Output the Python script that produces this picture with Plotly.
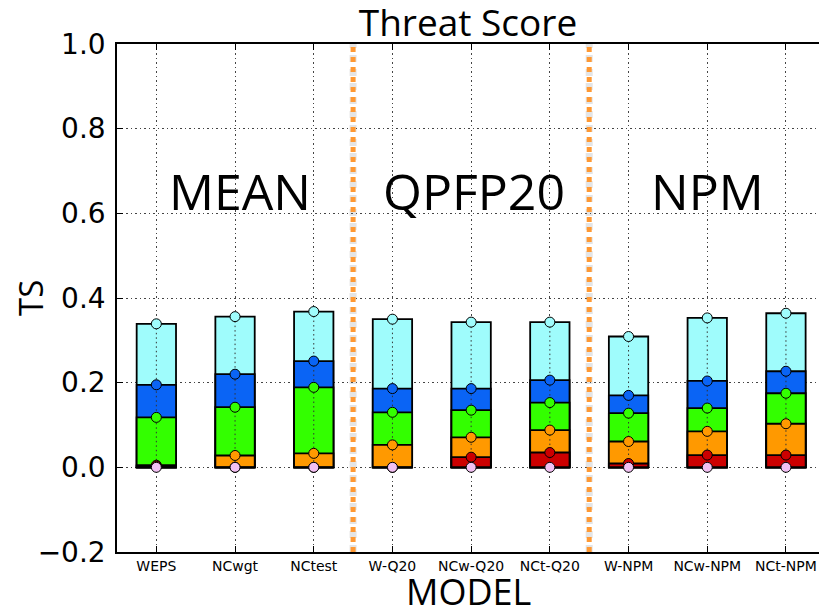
import plotly.graph_objects as go

models = ["WEPS", "NCwgt", "NCtest", "W-Q20", "NCw-Q20", "NCt-Q20", "W-NPM", "NCw-NPM", "NCt-NPM"]
groups = ["MEAN", "QPFP20", "NPM"]
group_centers = [1.06, 4.03, 7.0]
separators = [2.5, 5.5]

# TS for each rain threshold (lowest threshold -> highest TS)
ts_cyan   = [0.339, 0.356, 0.368, 0.350, 0.343, 0.343, 0.309, 0.353, 0.364]
ts_blue   = [0.195, 0.220, 0.251, 0.186, 0.186, 0.206, 0.170, 0.204, 0.227]
ts_green  = [0.118, 0.142, 0.189, 0.130, 0.135, 0.153, 0.128, 0.140, 0.175]
ts_orange = [0.005, 0.028, 0.033, 0.053, 0.071, 0.088, 0.061, 0.085, 0.103]
ts_red    = [0.003, 0.000, 0.000, 0.000, 0.024, 0.035, 0.009, 0.029, 0.029]
ts_pink   = [0.000, 0.000, 0.000, 0.000, 0.000, 0.000, 0.000, 0.000, 0.000]

series = [ts_cyan, ts_blue, ts_green, ts_orange, ts_red, ts_pink]
colors = ["#9ffcfc", "#0a64f5", "#33ff00", "#ff9900", "#cc0000", "#f2c0f2"]

x_idx = list(range(len(models)))
fig = go.Figure()

for vals, c in zip(series, colors):
    fig.add_trace(go.Bar(x=x_idx, y=vals, width=0.5, marker=dict(color=c, line=dict(color="black", width=1.8)),
                         showlegend=False, hoverinfo="skip"))

# dotted connecting line per model
for i in x_idx:
    ys = [s[i] for s in series]
    fig.add_trace(go.Scatter(x=[i] * len(ys), y=ys, mode="lines",
                             line=dict(color="#333333", width=1, dash="1.5px,3px"), showlegend=False, hoverinfo="skip"))

for vals, c in zip(series, colors):
    fig.add_trace(go.Scatter(x=x_idx, y=vals, mode="markers",
                             marker=dict(color=c, size=10, line=dict(color="black", width=1)),
                             showlegend=False))

for xs in separators:
    fig.add_shape(type="line", x0=xs, x1=xs, y0=0, y1=1, yref="paper", xref="x",
                  line=dict(color="rgba(120,120,120,0.2)", width=7, dash="dot"), layer="above")
    fig.add_shape(type="line", x0=xs, x1=xs, y0=0, y1=1, yref="paper", xref="x",
                  line=dict(color="#ff9933", width=5, dash="dot"), layer="above")

for g, gc in zip(groups, group_centers):
    fig.add_annotation(x=gc, y=0.652, text=g, showarrow=False, xanchor="center", yanchor="middle",
                       font=dict(family="Open Sans", size=50, color="black"))

fig.add_annotation(text="MODEL", x=0.5, xref="paper", y=-(591 - 552) / 508, yref="paper",
                   xanchor="center", yanchor="middle", showarrow=False,
                   font=dict(family="Open Sans", size=36, color="black"))
fig.add_annotation(text="TS", x=(30 - 117) / 702, xref="paper", y=(552 - 298) / 508, yref="paper",
                   xanchor="center", yanchor="middle", showarrow=False, textangle=-90,
                   font=dict(family="Open Sans", size=33, color="black"))

fig.update_layout(
    width=819, height=612,
    margin=dict(l=117, r=0, t=44, b=60, autoexpand=False),
    paper_bgcolor="white", plot_bgcolor="white",
    barmode="overlay",
    title=dict(text="Threat Score", x=0.5, xref="paper", y=1 - 23 / 612, yref="container",
               xanchor="center", yanchor="middle", font=dict(family="Open Sans", size=37, color="black")),
    xaxis=dict(range=[-0.5, 8.42], tickmode="array", tickvals=x_idx, ticktext=models,
               tickfont=dict(family="DejaVu Sans", size=14, color="black"),
               showgrid=True, gridcolor="#444444", griddash="1.5px,3px", gridwidth=1,
               showline=True, linecolor="black", linewidth=1.5, mirror="ticks",
               ticks="inside", ticklen=6, tickcolor="black", zeroline=False, automargin=False),
    yaxis=dict(range=[-0.2, 1.0], tickmode="array", tickvals=[-0.2, 0.0, 0.2, 0.4, 0.6, 0.8, 1.0],
               ticktext=["\u22120.2", "0.0", "0.2", "0.4", "0.6", "0.8", "1.0"],
               tickfont=dict(family="DejaVu Sans", size=28, color="black"),
               showgrid=True, gridcolor="#444444", griddash="1.5px,3px", gridwidth=1,
               showline=True, linecolor="black", linewidth=1.5, ticklabelstandoff=4,
               ticks="inside", ticklen=6, tickcolor="black", zeroline=False, automargin=False),
)

fig.write_html("out.html", config={"displayModeBar": False},
               post_script="document.body.style.margin='0';document.body.style.overflow='hidden';")
